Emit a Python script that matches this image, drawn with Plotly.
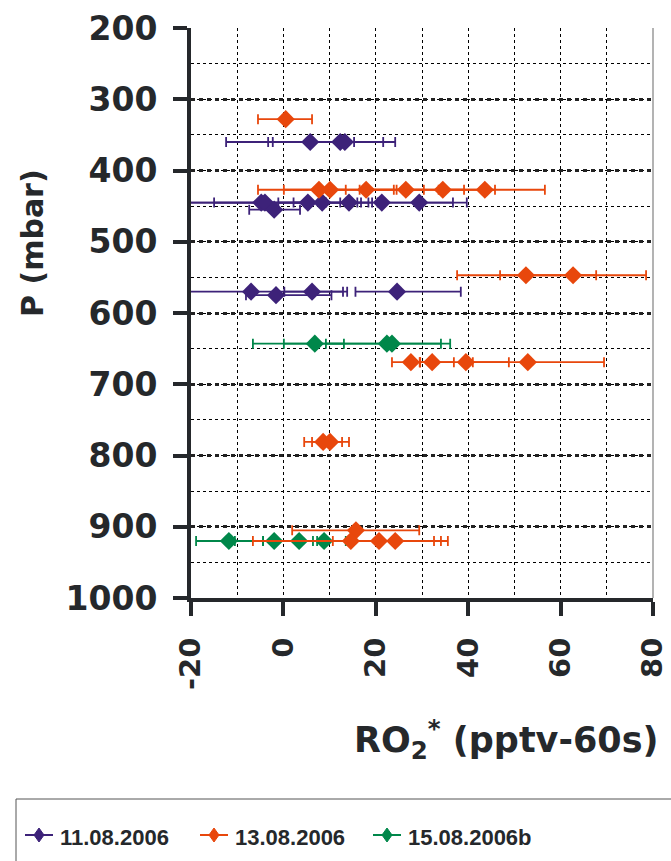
import plotly.graph_objects as go

# ---- data ----
series_names = ["11.08.2006", "13.08.2006", "15.08.2006b"]
series_colors = ["#3d2279", "#e8470c", "#00874a"]

p11 = [360, 360, 360, 445, 445, 445, 445, 445, 445, 445, 455, 570, 575, 570, 570]
v11 = [5.8, 12.3, 13.3, -4.8, -4.0, 5.3, 8.4, 14.2, 21.3, 29.4, -2.0, -7.0, -1.6, 6.2, 24.6]
em11 = [18.2, 14.6, 16.6, 21.5, 17.0, 20.3, 9.5, 12.0, 9.0, 9.0, 5.4, 20.4, 6.5, 6.0, 9.0]
ep11 = [9.5, 11.9, 8.3, 14.0, 20.0, 11.5, 10.0, 5.0, 15.4, 10.3, 5.6, 20.8, 12.0, 6.7, 13.8]

p13 = [328, 427, 427, 427, 427, 427, 427, 547, 547, 669, 669, 669, 669, 781, 781, 905, 920, 920, 920]
v13 = [0.5, 7.7, 10.1, 17.9, 26.5, 34.5, 43.6, 52.5, 62.7, 27.6, 32.2, 39.5, 52.9, 8.6, 10.1, 15.7, 14.6, 20.7, 24.2]
em13 = [6.0, 13.2, 10.0, 8.0, 10.0, 10.0, 10.0, 14.9, 15.8, 4.1, 2.6, 10.0, 11.9, 4.1, 3.9, 13.8, 21.2, 10.0, 10.0]
ep13 = [5.7, 5.8, 13.8, 12.5, 12.6, 11.3, 13.0, 15.2, 15.8, 2.0, 4.7, 9.3, 16.5, 4.1, 4.1, 13.7, 18.0, 13.4, 11.4]

p15 = [643, 643, 643, 920, 920, 920, 920]
v15 = [6.8, 22.4, 23.5, -11.8, -2.0, 3.4, 8.8]
em15 = [13.4, 13.2, 23.4, 7.1, 8.5, 7.8, 5.0]
ep15 = [6.3, 11.7, 12.6, 7.4, 8.4, 3.9, 4.7]

x_ticks = [-20, 0, 20, 40, 60, 80]
y_ticks = [200, 300, 400, 500, 600, 700, 800, 900, 1000]

series = [
    (v11, p11, em11, ep11),
    (v13, p13, em13, ep13),
    (v15, p15, em15, ep15),
]

TXT = "#25282b"
L, R, T, B = 191, 18, 28, 263
W, H = 671, 861
PW = W - L - R
PH = H - T - B

fig = go.Figure()
for idx in [0, 2, 1]:
    v, p, em, ep = series[idx]
    c = series_colors[idx]
    fig.add_trace(go.Scatter(
        x=v, y=p, mode="markers", name=series_names[idx],
        marker=dict(symbol="diamond", size=14, color=c),
        error_x=dict(type="data", array=ep, arrayminus=em, symmetric=False,
                     color=c, thickness=1.8, width=5),
        showlegend=False, cliponaxis=False,
    ))

fig.update_layout(
    width=W, height=H,
    margin=dict(l=L, r=R, t=T, b=B, autoexpand=False),
    paper_bgcolor="white", plot_bgcolor="white",
    font=dict(family="DejaVu Sans", color=TXT),
    showlegend=False,
)
fig.update_xaxes(
    range=[-20, 80], tickvals=x_ticks, ticktext=[str(t) for t in x_ticks],
    tickangle=-90, tickfont=dict(size=29, family="DejaVu Sans", color=TXT, weight="bold"),
    showline=True, linecolor=TXT, linewidth=4,
    ticks="outside", ticklen=14, tickwidth=4, tickcolor=TXT, ticklabelstandoff=10,
    showgrid=True, gridcolor="black", gridwidth=1, griddash="dot",
    minor=dict(dtick=10, tick0=0, showgrid=True, gridcolor="black", gridwidth=1, griddash="dot", ticks=""),
    zeroline=False, automargin=False,
)
fig.update_yaxes(
    range=[1000, 200], tickvals=y_ticks, ticktext=[str(t) for t in y_ticks],
    tickfont=dict(size=33, family="DejaVu Sans", color=TXT, weight="bold"),
    showline=True, linecolor=TXT, linewidth=4,
    ticks="outside", ticklen=14, tickwidth=4, tickcolor=TXT, ticklabelstandoff=9,
    showgrid=True, gridcolor="#222222", gridwidth=2.5, griddash="4px,4px",
    minor=dict(dtick=50, tick0=0, showgrid=True, gridcolor="black", gridwidth=1, griddash="dot", ticks=""),
    zeroline=False, automargin=False,
)


def px2x(px):
    return (px - L) / PW


def py2y(py):
    return (T + PH - py) / PH


# right border
fig.add_shape(type="line", xref="paper", yref="paper", x0=1, x1=1, y0=0, y1=1,
              line=dict(color="#9a9a9a", width=1.5))

# y axis title
fig.add_annotation(
    text="<b>P (mbar)</b>", xref="paper", yref="paper",
    x=px2x(33), y=py2y(243), showarrow=False, textangle=-90,
    font=dict(size=30, family="DejaVu Sans", color=TXT), xanchor="center", yanchor="middle",
)

# x axis title
fig.add_annotation(
    text="<b>RO<sub>2</sub><sup>*</sup> (pptv-60s)</b>", xref="paper", yref="paper",
    x=px2x(506), y=py2y(740), showarrow=False,
    font=dict(size=35, family="DejaVu Sans", color=TXT), xanchor="center", yanchor="middle",
)

# legend box (manual)
fig.add_shape(type="rect", xref="paper", yref="paper",
              x0=px2x(16), x1=px2x(690), y0=py2y(799), y1=py2y(880),
              line=dict(color="#555555", width=1), fillcolor="rgba(0,0,0,0)")
leg_x = [25, 200, 373]
for i, name in enumerate(series_names):
    c = series_colors[i]
    x0 = leg_x[i]
    yc = 835
    fig.add_shape(type="line", xref="paper", yref="paper",
                  x0=px2x(x0), x1=px2x(x0 + 28), y0=py2y(yc), y1=py2y(yc),
                  line=dict(color=c, width=2))
    cx = x0 + 14
    path = "M {} {} L {} {} L {} {} L {} {} Z".format(
        px2x(cx - 5), py2y(yc), px2x(cx), py2y(yc - 7), px2x(cx + 5), py2y(yc), px2x(cx), py2y(yc + 7))
    fig.add_shape(type="path", xref="paper", yref="paper", path=path,
                  line=dict(color=c, width=1), fillcolor=c)
    fig.add_annotation(text="<b>" + name + "</b>", xref="paper", yref="paper",
                       x=px2x(x0 + 33), y=py2y(yc + 2), xanchor="left", yanchor="middle",
                       showarrow=False,
                       font=dict(size=22, family="Liberation Sans", color=TXT))

fig.write_html("out.html")
